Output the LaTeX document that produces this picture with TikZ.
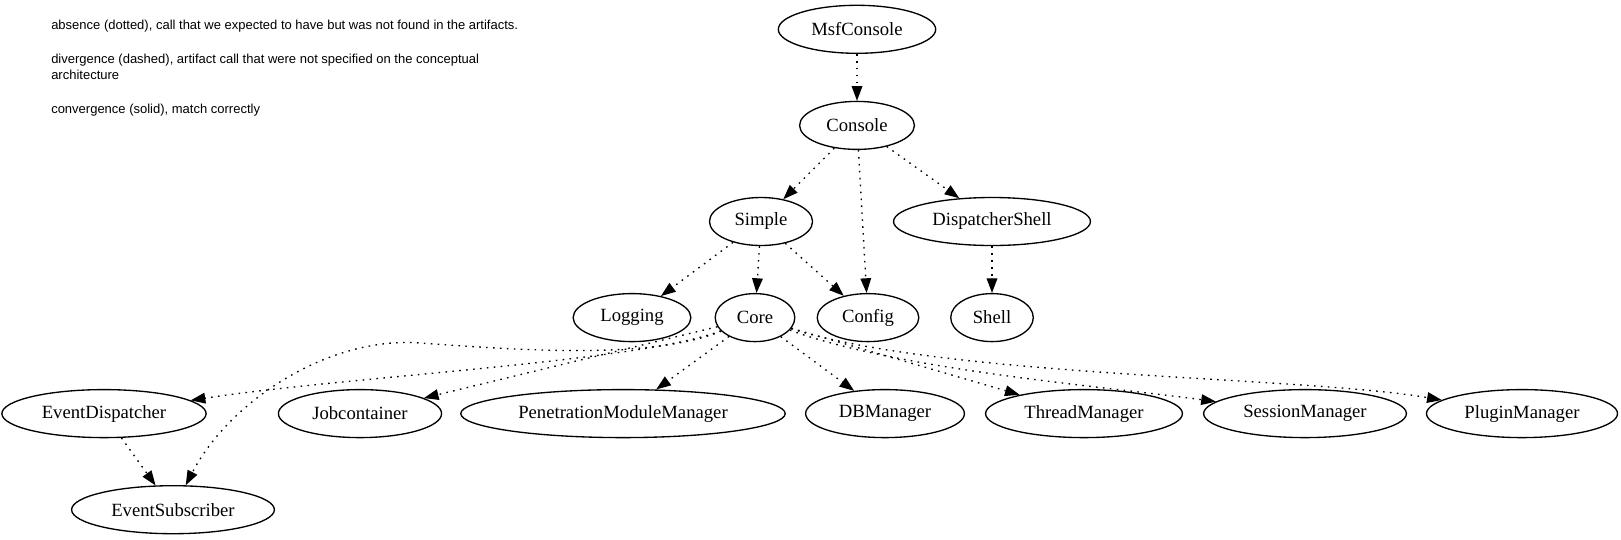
\documentclass[tikz,border=0pt]{standalone}
\usepackage{fontspec}
\setmainfont{Liberation Serif}
\newfontfamily\legendfont{Liberation Sans}
\usetikzlibrary{arrows.meta,shapes.geometric}

\tikzset{
    link/.style={draw=black, line width=1bp, dash pattern=on 1.2bp off 4bp},
    >={Triangle[length=11bp,width=8bp]}
}

\begin{document}
\begin{tikzpicture}[x=0.75bp, y=-0.75bp]
        \useasboundingbox (0,0) rectangle (1621,539);

        \node[anchor=north west, inner sep=0pt, align=left, font=\legendfont\fontsize{9.75bp}{12.5bp}\selectfont] (L) at (51,20)
            {absence (dotted), call that we expected to have but was not found in the artifacts.\\[12.5bp]
             divergence (dashed), artifact call that were not specified on the conceptual\\
             architecture\\[12.5bp]
             convergence (solid), match correctly};

        \begin{scope}[every node/.style={ellipse, draw, line width=1bp, minimum height=36bp, inner xsep=7.5bp, inner ysep=2bp, font=\fontsize{14bp}{16bp}\selectfont}]
            \node (Msf) at (857, 29.3) {MsfConsole};

            \node (Con) at (857, 125.4) {Console};

            \node (Sim) at (761, 221.5) {Simple};
            \node (Dsh) at (992, 221.5) {DispatcherShell};

            \node (Log) at (632, 317.6) {Logging};
            \node (Core) at (755, 317.6) {Core};
            \node (Cfg) at (868, 317.6) {Config};
            \node (Sh) at (992, 317.6) {Shell};

            \node (ED) at (104, 413.6) {EventDispatcher};
            \node (Job) at (360, 413.6) {Jobcontainer};
            \node (PMM) at (623, 413.6) {PenetrationModuleManager};
            \node (DB) at (885, 413.6) {DBManager};
            \node (TM) at (1084, 413.6) {ThreadManager};
            \node (SM) at (1305, 413.6) {SessionManager};
            \node (PM) at (1522, 413.6) {PluginManager};

            \node (ES) at (173, 509.7) {EventSubscriber};
        \end{scope}

        \begin{scope}[every edge/.style={link}]
            \path [->] (Msf) edge (Con);
            \path [->] (Con) edge (Sim);
            \path [->] (Con) edge (Cfg);
            \path [->] (Con) edge (Dsh);
            \path [->] (Sim) edge (Log);
            \path [->] (Sim) edge (Core);
            \path [->] (Sim) edge (Cfg);
            \path [->] (Dsh) edge (Sh);
            \path [->] (Core) edge (Job);
            \path [->] (Core) edge (PMM);
            \path [->] (Core) edge (DB);
            \path [->] (Core) edge (TM);
            \path [->] (ED) edge (ES);
        \end{scope}

        \draw [link, ->] (Core) .. controls (640,362) and (350,376) .. (ED);
        \draw [link, ->] (Core) .. controls (650,360) and (520,350) .. (420,343) .. controls (330,336) and (230,400) .. (ES);
        \draw [link, ->] (Core) .. controls (900,370) and (1100,386) .. (SM);
        \draw [link, ->] (Core) .. controls (950,378) and (1300,376) .. (PM);
    \end{tikzpicture}
\end{document}
